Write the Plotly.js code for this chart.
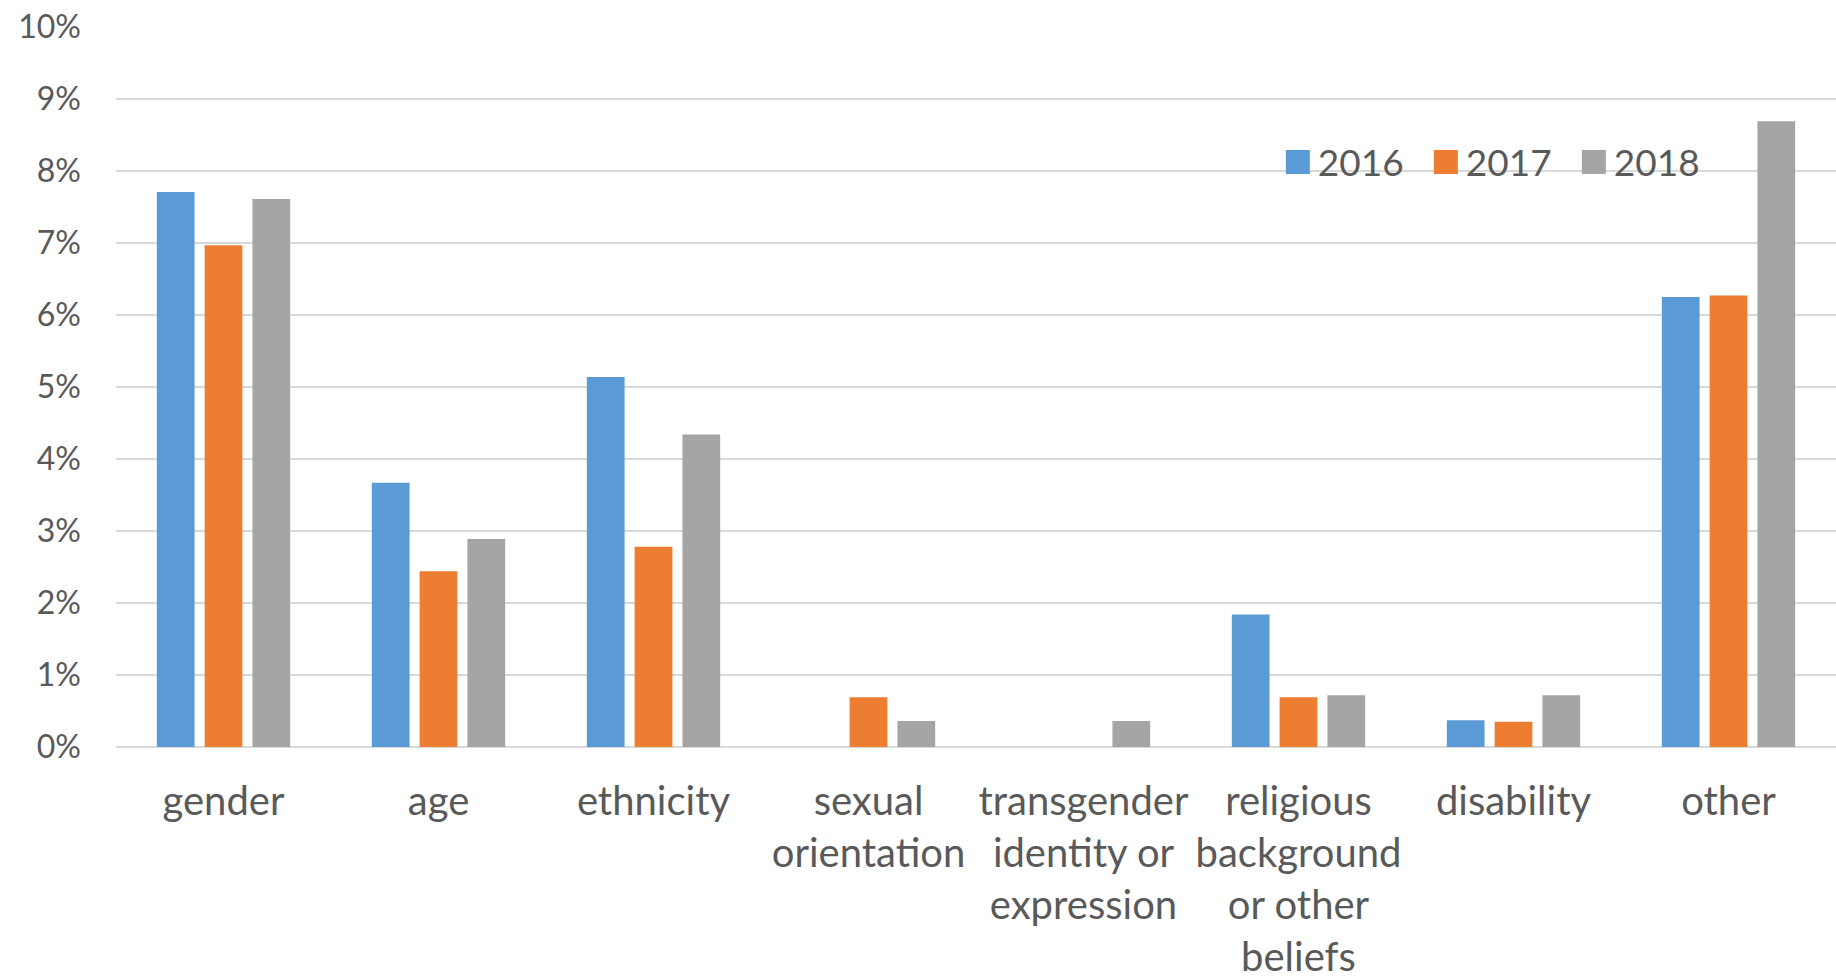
<!DOCTYPE html>
<html>
<head>
<meta charset="utf-8">
<script src="https://cdn.plot.ly/plotly-3.0.1.min.js"></script>
<style>
  html, body { margin: 0; padding: 0; background: #ffffff; }
  #chart { width: 1836px; height: 980px; }
</style>
</head>
<body>
<div id="chart"></div>
<script>
// Categories (x axis labels)
const categories = [
  "gender",
  "age",
  "ethnicity",
  "sexual<br>orientation",
  "transgender<br>identity or<br>expression",
  "religious<br>background<br>or other<br>beliefs",
  "disability",
  "other"
];

// Series names
const seriesNames = ["2016", "2017", "2018"];

// Values in percent
const values2016 = [7.71, 3.67, 5.14, 0, 0, 1.84, 0.37, 6.25];
const values2017 = [6.97, 2.44, 2.78, 0.69, 0, 0.69, 0.35, 6.27];
const values2018 = [7.61, 2.89, 4.34, 0.36, 0.36, 0.72, 0.72, 8.69];

// Y axis ticks
const yTickValues = [0, 1, 2, 3, 4, 5, 6, 7, 8, 9, 10];
const yTickLabels = ["0%", "1%", "2%", "3%", "4%", "5%", "6%", "7%", "8%", "9%", "10%"];

const colors = ["#5b9bd5", "#ed7d31", "#a5a5a5"];
const allValues = [values2016, values2017, values2018];

const traces = allValues.map((vals, i) => ({
  type: "bar",
  name: seriesNames[i],
  x: categories,
  y: vals,
  marker: { color: colors[i], line: { width: 0 } },
  hoverinfo: "x+y+name"
}));

const textColor = "#595959";
const gridColor = "#d9d9d9";

const layout = {
  width: 1836,
  height: 980,
  margin: { l: 116, r: 0, t: 27, b: 233, pad: 0 },
  paper_bgcolor: "#ffffff",
  plot_bgcolor: "#ffffff",
  font: { family: "Lato, 'Open Sans', sans-serif", color: textColor, size: 32 },
  barmode: "group",
  bargap: 0.333,
  bargroupgap: 0.21,
  showlegend: true,
  legend: {
    orientation: "h",
    x: 0.6755,
    xanchor: "left",
    y: 0.812,
    yanchor: "middle",
    font: { family: "Lato, sans-serif", size: 37, color: textColor },
    bgcolor: "rgba(0,0,0,0)",
    entrywidth: 103,
    entrywidthmode: "pixels",
    traceorder: "normal"
  },
  xaxis: {
    type: "category",
    showgrid: false,
    zeroline: false,
    showline: false,
    ticks: "",
    tickfont: { family: "Lato, sans-serif", size: 40, color: textColor },
    ticklabelstandoff: 27,
    fixedrange: true
  },
  yaxis: {
    range: [0, 10],
    tickmode: "array",
    tickvals: yTickValues,
    ticktext: yTickLabels,
    showgrid: true,
    gridcolor: gridColor,
    gridwidth: 2,
    zeroline: true,
    zerolinecolor: gridColor,
    zerolinewidth: 2,
    showline: false,
    ticks: "",
    tickfont: { family: "Lato, sans-serif", size: 32, color: textColor },
    ticklabelstandoff: 34,
    fixedrange: true
  }
};

Plotly.newPlot("chart", traces, layout, { displayModeBar: false, responsive: false }).then(gd => {
  // enlarge legend swatches (24x24 squares, as in the reference), keeping Plotly's own centring transform
  gd.querySelectorAll(".legend .legendpoints path").forEach(p => {
    p.setAttribute("d", "M12,12H-12V-12H12Z");
  });
});
</script>
</body>
</html>
